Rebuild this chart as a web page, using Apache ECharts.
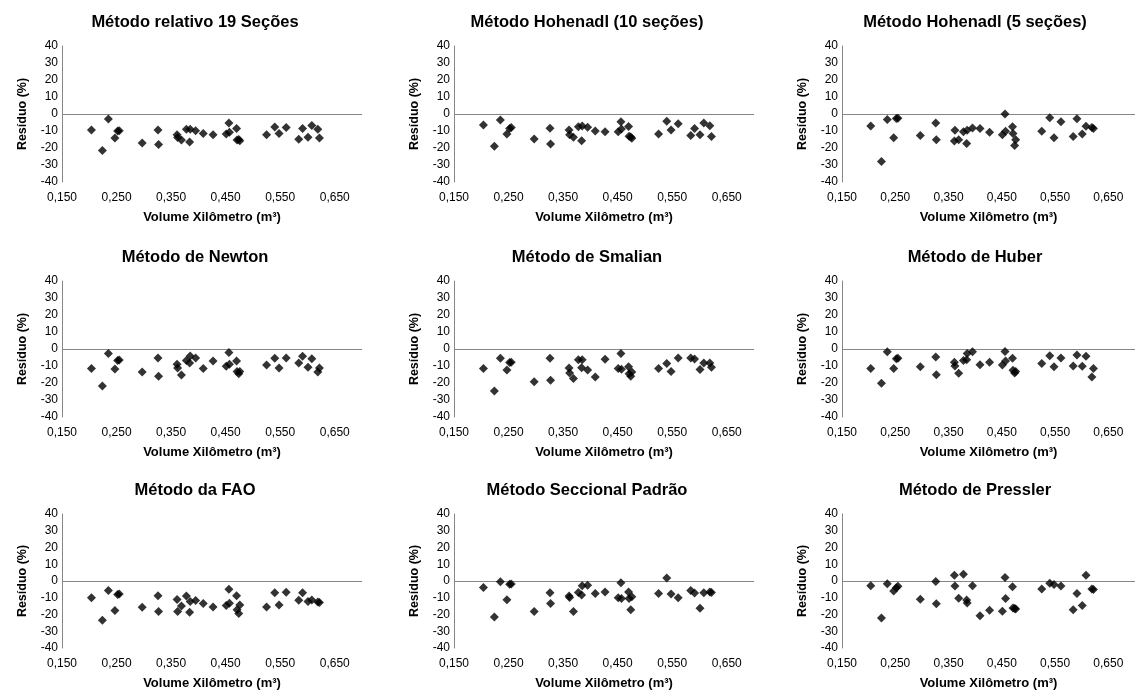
<!DOCTYPE html>
<html>
<head>
<meta charset="utf-8">
<script src="https://cdn.jsdelivr.net/npm/echarts@6/dist/echarts.min.js"></script>
<style>
html,body{margin:0;padding:0;background:#fff;}
#chart{width:1135px;height:691px;}
</style>
</head>
<body>
<div id="chart"></div>
<script>
// ---------- DATA ----------
const panelTitles = [
  'Método relativo 19 Seções',
  'Método Hohenadl (10 seções)',
  'Método Hohenadl (5 seções)',
  'Método de Newton',
  'Método de Smalian',
  'Método de Huber',
  'Método da FAO',
  'Método Seccional Padrão',
  'Método de Pressler'
];
const xAxisTitle = 'Volume Xilômetro (m³)';
const yAxisTitle = 'Resíduo (%)';
const xTickValues = [0.15, 0.25, 0.35, 0.45, 0.55, 0.65];

// Volume Xilômetro (m³) of each tree
const volume = [0.204, 0.224, 0.235, 0.247, 0.252, 0.255, 0.297, 0.326, 0.327, 0.361,
  0.362, 0.369, 0.378, 0.384, 0.385, 0.395, 0.409, 0.427, 0.451, 0.456,
  0.457, 0.470, 0.471, 0.474, 0.476, 0.525, 0.540, 0.548, 0.561, 0.584,
  0.591, 0.601, 0.608, 0.619, 0.622];

// Residuals (%) for each method
const resRelativo19 = [-9.4, -21.5, -2.9, -14.1, -10.0, -9.8, -17.1, -9.4, -18.0, -12.2,
  -13.8, -15.3, -9.0, -16.5, -9.0, -9.8, -11.4, -12.2, -11.8, -5.3,
  -10.8, -8.6, -15.3, -15.0, -15.7, -12.2, -7.6, -11.4, -8.0, -14.9,
  -8.6, -13.7, -6.7, -9.0, -14.1];
const resHohenadl10 = [-6.5, -19.0, -3.5, -11.8, -8.5, -8.0, -14.7, -8.4, -17.6, -9.4,
  -12.2, -13.7, -7.5, -15.7, -7.1, -7.8, -10.0, -10.4, -10.4, -4.5,
  -8.8, -7.3, -13.1, -13.5, -14.3, -11.8, -4.3, -9.4, -5.7, -12.7,
  -8.6, -12.2, -5.3, -6.9, -13.3];
const resHohenadl5 = [-7.1, -28.0, -3.3, -13.9, -2.6, -2.5, -12.7, -5.3, -15.1, -15.9,
  -9.6, -15.1, -10.4, -17.3, -9.6, -8.2, -8.6, -10.8, -12.2, 0.0,
  -10.2, -7.5, -11.4, -18.6, -15.1, -10.2, -2.2, -14.0, -4.6, -13.3,
  -2.8, -11.8, -7.2, -8.0, -8.6];
const resNewton = [-11.5, -21.7, -2.7, -11.7, -6.8, -6.5, -13.5, -5.3, -16.0, -9.0,
  -11.2, -15.3, -6.7, -8.2, -4.1, -5.3, -11.5, -7.0, -10.2, -2.0,
  -9.0, -7.0, -13.3, -14.5, -13.3, -9.4, -5.5, -11.2, -5.3, -8.2,
  -4.3, -10.8, -5.7, -13.5, -11.2];
const resSmalian = [-11.5, -24.7, -5.5, -12.3, -8.0, -7.8, -19.2, -5.5, -18.4, -11.2,
  -14.1, -17.4, -6.3, -11.0, -6.3, -12.3, -16.4, -6.1, -11.5, -2.7,
  -11.9, -10.4, -14.5, -16.0, -13.5, -11.5, -8.6, -13.3, -5.3, -5.3,
  -5.9, -12.1, -8.2, -8.2, -10.8];
const resHuber = [-11.5, -20.2, -1.6, -11.4, -5.8, -5.5, -10.4, -4.7, -15.1, -7.8,
  -10.0, -14.3, -6.7, -6.3, -2.7, -1.6, -9.2, -7.8, -9.4, -1.4,
  -7.0, -5.5, -12.5, -14.1, -13.3, -8.6, -3.9, -10.4, -5.3, -10.0,
  -3.5, -10.2, -4.3, -16.4, -11.4];
const resFAO = [-10.0, -23.5, -5.7, -17.6, -8.0, -7.8, -15.7, -8.8, -18.2, -11.0,
  -18.2, -14.9, -9.0, -18.6, -12.3, -11.7, -13.5, -15.5, -14.7, -4.9,
  -13.3, -8.8, -17.2, -19.4, -14.3, -15.5, -7.0, -14.3, -6.7, -11.5,
  -7.0, -12.3, -11.4, -12.5, -12.9];
const resSeccional = [-3.9, -21.5, -0.4, -11.2, -2.0, -1.8, -18.2, -7.0, -13.5, -9.0,
  -9.8, -18.2, -6.8, -8.4, -2.9, -2.5, -7.4, -6.5, -10.0, -1.0,
  -10.4, -6.5, -10.4, -17.2, -9.4, -7.4, 1.8, -7.8, -10.0, -5.7,
  -7.2, -16.2, -7.0, -6.5, -6.8];
const resPressler = [-2.8, -22.1, -1.7, -6.0, -4.0, -3.2, -10.9, -0.3, -13.6, 3.4,
  -3.0, -10.3, 4.0, -11.3, -13.2, -2.8, -20.8, -17.5, -18.1, 2.1,
  -10.5, -3.4, -16.1, -16.4, -16.7, -4.8, -1.3, -2.1, -3.0, -17.1,
  -7.5, -14.6, 3.4, -4.8, -5.0];

const residuals = [resRelativo19, resHohenadl10, resHohenadl5, resNewton, resSmalian,
  resHuber, resFAO, resSeccional, resPressler];

// ---------- LAYOUT ----------
const FONT = "'Liberation Sans', Arial, Helvetica, sans-serif";
const colLeft = [62, 454, 842];
const rowTop = [46, 281, 514];
const plotW = 300, plotH = 136;
const titleCenterOffset = 133;
const titleTopOffset = -32;
const AXIS_GRAY = '#868686';

const grids = [], xAxes = [], yAxes = [], series = [], titles = [];
panelTitles.forEach((t, i) => {
  const c = i % 3, r = Math.floor(i / 3);
  grids.push({ left: colLeft[c], top: rowTop[r], width: plotW, height: plotH, containLabel: false });
  titles.push({
    text: t, left: colLeft[c] + titleCenterOffset, top: rowTop[r] + titleTopOffset,
    textAlign: 'center', padding: 0,
    textStyle: { fontFamily: FONT, fontSize: 16.5, fontWeight: 'bold', color: '#000' }
  });
  xAxes.push({
    gridIndex: i, type: 'value', min: 0.15, max: 0.7,
    axisLine: { show: false }, axisTick: { show: false }, splitLine: { show: false },
    axisLabel: {
      customValues: xTickValues, margin: 10, color: '#000', fontFamily: FONT, fontSize: 12,
      formatter: v => v.toFixed(3).replace('.', ',')
    },
    name: xAxisTitle, nameLocation: 'middle', nameGap: 29,
    nameTextStyle: { fontFamily: FONT, fontSize: 13, fontWeight: 'bold', color: '#000' }
  });
  yAxes.push({
    gridIndex: i, type: 'value', min: -40, max: 40, interval: 10,
    axisLine: { show: true, lineStyle: { color: AXIS_GRAY, width: 1 } },
    axisTick: { show: false }, splitLine: { show: false },
    axisLabel: { margin: 4, color: '#000', fontFamily: FONT, fontSize: 12 },
    name: yAxisTitle, nameLocation: 'middle', nameGap: 33,
    nameTextStyle: { fontFamily: FONT, fontSize: 12.5, fontWeight: 'bold', color: '#000' }
  });
  series.push({
    type: 'scatter', xAxisIndex: i, yAxisIndex: i,
    symbol: 'diamond', symbolSize: 9,
    itemStyle: { color: '#000' },
    data: volume.map((v, k) => [v, residuals[i][k]]),
    z: 3,
    markLine: {
      silent: true, symbol: ['none', 'none'], z: 1,
      label: { show: false },
      lineStyle: { color: AXIS_GRAY, width: 1, type: 'solid' },
      emphasis: { disabled: true },
      data: [{ yAxis: 0 }]
    }
  });
});

const chart = echarts.init(document.getElementById('chart'), null, { renderer: 'canvas' });
chart.setOption({
  animation: false,
  backgroundColor: '#fff',
  title: titles,
  grid: grids,
  xAxis: xAxes,
  yAxis: yAxes,
  series: series
});
</script>
</body>
</html>
